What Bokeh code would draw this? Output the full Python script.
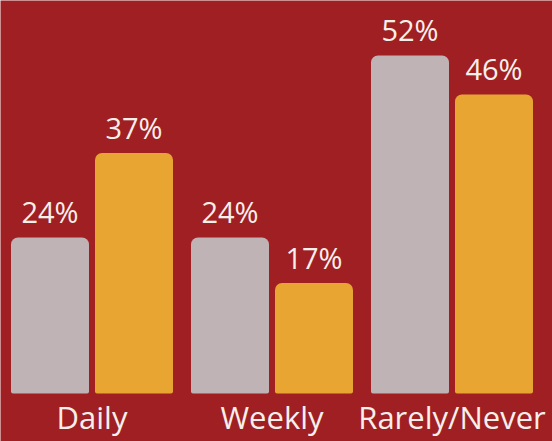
from bokeh.plotting import figure
from bokeh.models import Range1d, ColumnDataSource
from bokeh.core.properties import value
from bokeh.embed import file_html
from bokeh.resources import INLINE

categories = ["Daily", "Weekly", "Rarely/Never"]
series_a = [24, 24, 52]   # grey bars
series_b = [37, 17, 46]   # orange bars
labels_a = ["24%", "24%", "52%"]
labels_b = ["37%", "17%", "46%"]

BG = "#9f1f23"
GREY = "#c0b3b6"
ORANGE = "#e8a532"
TXT = "#f7efea"

xs = list(range(len(categories)))
off = 42 / 180
bw = 78 / 180
scale = 6.5  # pixels per percentage point

p = figure(width=552, height=441, output_backend="svg", toolbar_location=None,
           x_range=Range1d(-91.5 / 180, (552 - 91.5) / 180),
           y_range=Range1d(-48 / scale, 393 / scale),
           min_border=0)
p.background_fill_color = BG
p.border_fill_color = BG
p.outline_line_color = None
p.grid.visible = False
p.axis.visible = False

src_a = ColumnDataSource(dict(x=[x - off for x in xs], top=series_a, lab=labels_a))
src_b = ColumnDataSource(dict(x=[x + off for x in xs], top=series_b, lab=labels_b))
src_c = ColumnDataSource(dict(x=xs, y=[0] * len(xs), lab=categories))

p.vbar(x="x", top="top", bottom=0, width=bw, source=src_a, fill_color=GREY,
       line_color=None, border_radius=(7, 7, 2, 2))
p.vbar(x="x", top="top", bottom=0, width=bw, source=src_b, fill_color=ORANGE,
       line_color=None, border_radius=(7, 7, 2, 2))

for src in (src_a, src_b):
    p.text(x="x", y="top", text="lab", source=src, text_align="center",
           text_baseline="alphabetic", y_offset=-26, text_color=TXT,
           text_font=value("Open Sans"), text_font_size="29px")

# category labels under each group
p.text(x="x", y="y", text="lab", source=src_c, text_align="center",
       text_baseline="alphabetic", y_offset=23, text_color=TXT,
       text_font=value("Open Sans"), text_font_size="31px")

html = file_html(p, INLINE)
html = html.replace("<body>", '<body style="margin:0;background-color:%s;">' % BG, 1)
open("out.html", "w").write(html)
